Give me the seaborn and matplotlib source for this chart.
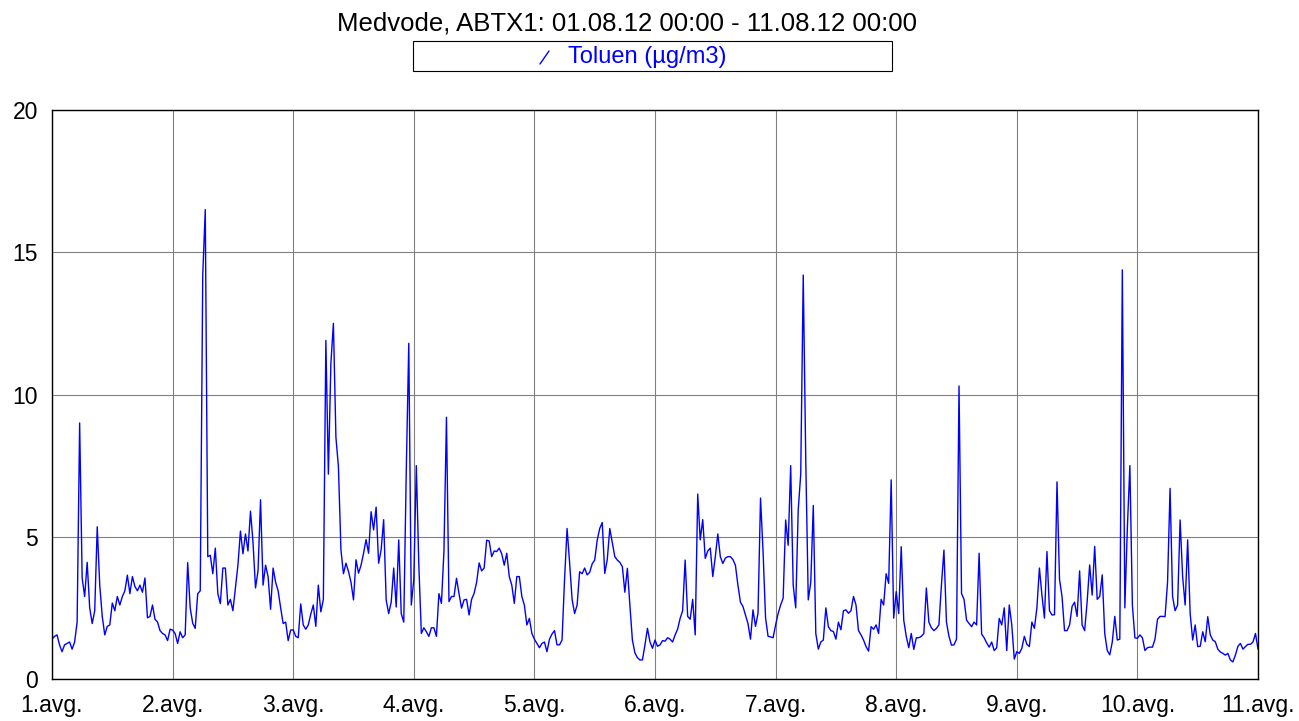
import numpy as np
import pandas as pd
import matplotlib
matplotlib.use('Agg')
import matplotlib.pyplot as plt
import seaborn as sns
from matplotlib.lines import Line2D
from matplotlib.patches import Rectangle

# half-hourly toluene values, one list per day
day1 = [1.4, 1.5, 1.55, 1.2, 0.96, 1.2, 1.25, 1.3, 1.05, 1.3, 2.0, 9.0, 3.55, 2.9, 4.1, 2.5,
        1.95, 2.4, 5.35, 3.3, 2.2, 1.55, 1.85, 1.9, 2.67, 2.4, 2.9, 2.6, 2.9, 3.1, 3.65, 3.0,
        3.6, 3.25, 3.1, 3.3, 3.05, 3.55, 2.15, 2.2, 2.6, 2.1, 2.0, 1.7, 1.6, 1.55, 1.35, 1.75]
day2 = [1.72, 1.6, 1.25, 1.66, 1.45, 1.55, 4.09, 2.5, 1.96, 1.78, 3.0, 3.1, 14.2, 16.5, 4.3, 4.35,
        3.7, 4.6, 3.0, 2.65, 3.9, 3.9, 2.6, 2.8, 2.4, 3.2, 4.0, 5.2, 4.4, 5.1, 4.5, 5.9,
        4.8, 3.2, 3.8, 6.3, 3.3, 4.0, 3.6, 2.45, 3.9, 3.4, 3.1, 2.5, 1.95, 2.0, 1.35, 1.72]
day3 = [1.73, 1.5, 1.45, 2.64, 1.9, 1.75, 1.9, 2.28, 2.6, 1.85, 3.3, 2.36, 2.8, 11.9, 7.2, 11.1,
        12.5, 8.5, 7.46, 4.54, 3.7, 4.07, 3.78, 3.4, 2.78, 4.19, 3.72, 4.0, 4.42, 4.9, 4.42, 5.88,
        5.24, 6.04, 4.07, 4.54, 5.6, 2.78, 2.3, 2.7, 3.9, 2.53, 4.89, 2.3, 2.0, 7.3, 11.8, 2.6]
day4 = [3.5, 7.5, 4.0, 1.6, 1.8, 1.66, 1.5, 1.8, 1.8, 1.5, 3.0, 2.66, 4.5, 9.2, 2.72, 2.9,
        2.9, 3.54, 3.0, 2.49, 2.78, 2.8, 2.25, 2.8, 3.01, 3.4, 4.08, 3.8, 3.9, 4.88, 4.85, 4.3,
        4.5, 4.48, 4.6, 4.4, 4.0, 4.42, 3.6, 3.3, 2.66, 3.6, 3.6, 2.9, 2.6, 1.9, 2.13, 1.6]
day5 = [1.4, 1.25, 1.1, 1.25, 1.3, 0.96, 1.4, 1.58, 1.7, 1.2, 1.2, 1.37, 3.5, 5.29, 4.1, 2.8,
        2.3, 2.6, 3.77, 3.7, 3.9, 3.66, 3.75, 4.05, 4.18, 4.88, 5.29, 5.5, 3.71, 4.2, 5.29, 4.8,
        4.3, 4.18, 4.1, 3.95, 3.05, 3.89, 2.6, 1.37, 0.92, 0.75, 0.67, 0.67, 1.2, 1.78, 1.3, 1.08]
day6 = [1.37, 1.15, 1.2, 1.35, 1.33, 1.45, 1.4, 1.3, 1.55, 1.75, 2.13, 2.4, 4.18, 2.2, 2.1, 2.8,
        1.55, 6.5, 4.89, 5.6, 4.24, 4.5, 4.6, 3.6, 4.3, 5.1, 4.3, 4.06, 4.25, 4.3, 4.3, 4.2,
        4.0, 3.3, 2.7, 2.55, 2.25, 1.95, 1.4, 2.43, 1.85, 2.31, 6.36, 4.5, 2.15, 1.5, 1.48, 1.45]
day7 = [1.9, 2.3, 2.6, 2.84, 5.59, 4.7, 7.5, 3.3, 2.5, 5.94, 7.2, 14.2, 7.7, 2.78, 3.4, 6.1,
        1.6, 1.05, 1.3, 1.37, 2.5, 1.84, 1.7, 1.67, 1.4, 2.0, 1.73, 2.4, 2.43, 2.31, 2.4, 2.9,
        2.6, 1.7, 1.55, 1.37, 1.14, 0.98, 1.84, 1.75, 1.9, 1.6, 2.8, 2.6, 3.7, 3.36, 7.0, 2.14]
day8 = [3.07, 2.3, 4.65, 2.07, 1.5, 1.1, 1.6, 1.04, 1.45, 1.45, 1.5, 1.6, 3.2, 2.0, 1.8, 1.7,
        1.78, 1.9, 3.3, 4.53, 2.0, 1.5, 1.19, 1.2, 1.4, 10.3, 3.0, 2.8, 2.07, 1.95, 1.84, 2.0,
        1.9, 4.42, 1.58, 1.45, 1.27, 1.12, 1.3, 1.0, 1.1, 2.13, 1.9, 2.5, 1.0, 2.6, 1.9, 0.7]
day9 = [0.96, 0.9, 1.08, 1.5, 1.22, 1.14, 2.0, 1.78, 2.5, 3.9, 2.95, 2.14, 4.48, 2.4, 2.25, 2.26,
        6.93, 3.5, 2.9, 1.7, 1.7, 1.9, 2.55, 2.7, 2.2, 3.8, 1.9, 1.7, 2.72, 4.01, 2.95, 4.66,
        2.8, 2.9, 3.66, 1.6, 1.0, 0.85, 1.3, 2.2, 1.37, 1.4, 14.38, 2.5, 5.3, 7.5, 2.6, 1.45]
day10 = [1.43, 1.55, 1.45, 1.0, 1.1, 1.12, 1.12, 1.4, 2.1, 2.2, 2.2, 2.19, 3.4, 6.7, 2.9, 2.4,
         2.6, 5.59, 3.6, 2.6, 4.89, 2.3, 1.37, 1.9, 1.14, 1.15, 1.66, 1.31, 2.19, 1.55, 1.37, 1.31,
         1.05, 0.95, 0.9, 0.84, 0.9, 0.67, 0.6, 0.84, 1.15, 1.25, 1.05, 1.14, 1.22, 1.22, 1.3, 1.6,
         1.05]

day_labels = ['1.avg.', '2.avg.', '3.avg.', '4.avg.', '5.avg.', '6.avg.',
              '7.avg.', '8.avg.', '9.avg.', '10.avg.', '11.avg.']
y_ticks = [0, 5, 10, 15, 20]
title = 'Medvode, ABTX1: 01.08.12 00:00 - 11.08.12 00:00'
series_label = 'Toluen (µg/m3)'

values = day1 + day2 + day3 + day4 + day5 + day6 + day7 + day8 + day9 + day10
df = pd.DataFrame({'day': np.arange(len(values)) / 48.0, 'toluen': values})

sns.set_style('white')
plt.rcParams['font.family'] = ['Liberation Sans', 'DejaVu Sans']
plt.rcParams['text.color'] = 'black'

W, H = 1299, 721
fig = plt.figure(figsize=(W / 100, H / 100), dpi=100)
ax = fig.add_axes([52 / W, 1 - 679 / H, (1258 - 52) / W, (679 - 110) / H])

sns.lineplot(data=df, x='day', y='toluen', color='#0000ff', lw=1.0, ax=ax, legend=False)

ax.set_xlim(0, 10)
ax.set_ylim(0, 20)
ax.set_xticks(range(len(day_labels)))
ax.set_xticklabels(day_labels)
ax.set_yticks(y_ticks)
ax.grid(True, color='#808080', lw=0.8)
ax.set_xlabel('')
ax.set_ylabel('')
ax.tick_params(length=0, labelsize=16.5, colors='black')
ax.tick_params(axis='y', pad=10)
ax.tick_params(axis='x', pad=11)
for sp in ax.spines.values():
    sp.set_color('black')
    sp.set_linewidth(1.0)

# title and the boxed legend above the plot
fig.text(627 / W, 1 - 23 / H, title, ha='center', va='center', fontsize=18.5, color='black')
fig.add_artist(Rectangle((413 / W, 1 - 71 / H), 479 / W, 30 / H, transform=fig.transFigure,
                         fill=False, edgecolor='black', lw=0.8))
fig.add_artist(Line2D([540 / W, 549 / W], [1 - 64 / H, 1 - 51 / H], transform=fig.transFigure,
                      color='#0000ff', lw=1))
fig.text(568 / W, 1 - 57 / H, series_label, color='#0000ff', fontsize=17, ha='left', va='center')

fig.savefig('out.png', dpi=100)
